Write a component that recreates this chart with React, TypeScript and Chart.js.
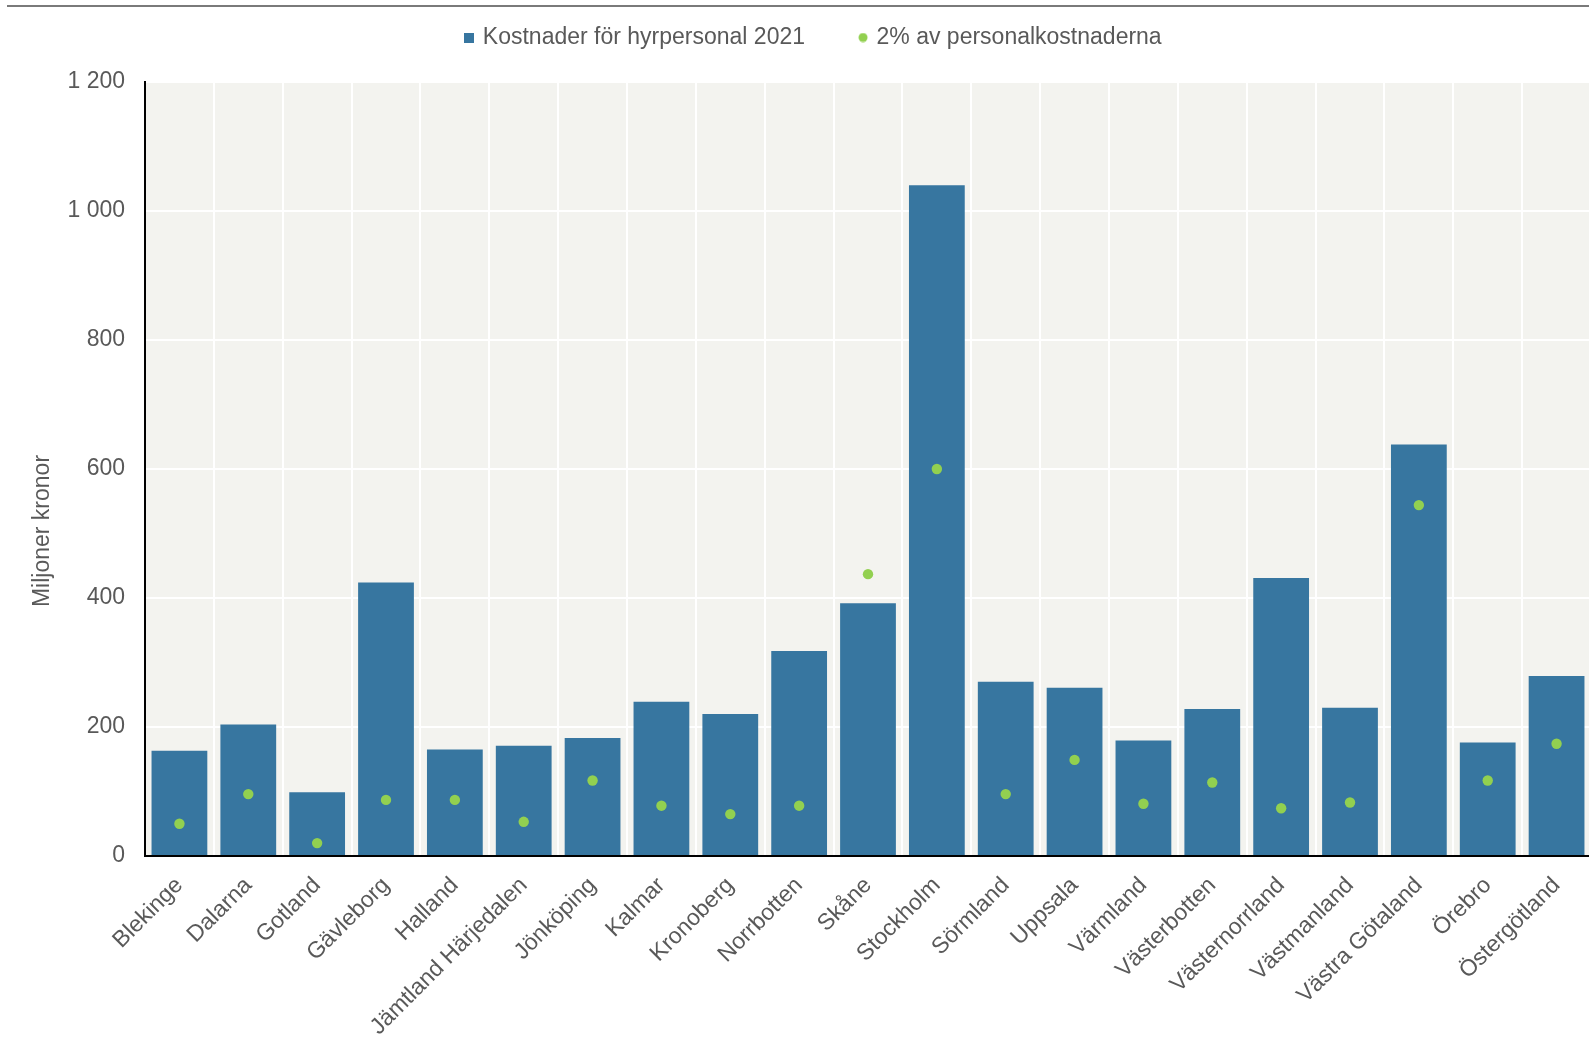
import React, { useEffect, useRef } from 'react';
import { Chart, registerables } from 'chart.js';

Chart.register(...registerables);

const categories = [
  'Blekinge', 'Dalarna', 'Gotland', 'Gävleborg', 'Halland', 'Jämtland Härjedalen',
  'Jönköping', 'Kalmar', 'Kronoberg', 'Norrbotten', 'Skåne', 'Stockholm', 'Sörmland',
  'Uppsala', 'Värmland', 'Västerbotten', 'Västernorrland', 'Västmanland',
  'Västra Götaland', 'Örebro', 'Östergötland',
];
const hyrpersonal = [163, 204, 99, 424, 165, 171, 183, 239, 220, 318, 392, 1040, 270, 261, 179, 228, 431, 230, 638, 176, 279];
const tvaProcent = [50, 96, 20, 87, 87, 53, 117, 78, 65, 78, 437, 600, 96, 149, 81, 114, 74, 83, 544, 117, 174];
const yTickValues = [0, 200, 400, 600, 800, 1000, 1200];
const seriesLabels = ['Kostnader för hyrpersonal 2021', '2% av personalkostnaderna'];
const yTitle = 'Miljoner kronor';

const W = 1600;
const H = 1044;
const FONT = '"Liberation Sans", Arial, sans-serif';
const FS = 23;
const TEXT = '#595959';
const BAR = 'rgb(55,118,160)';
const DOT = 'rgb(146,208,80)';

function fmt(v: number) {
  return String(v).replace(/\B(?=(\d{3})+(?!\d))/g, ' ');
}

export default function App() {
  const ref = useRef<HTMLCanvasElement | null>(null);

  useEffect(() => {
    const canvas = ref.current;
    if (!canvas) return;

    const sq = document.createElement('canvas');
    sq.width = 10; sq.height = 10;
    const sctx = sq.getContext('2d')!;
    sctx.fillStyle = BAR; sctx.fillRect(0, 0, 10, 10);

    const ci = document.createElement('canvas');
    ci.width = 10; ci.height = 10;
    const cctx = ci.getContext('2d')!;
    cctx.fillStyle = DOT; cctx.beginPath(); cctx.arc(5, 5, 4.5, 0, Math.PI * 2); cctx.fill();

    const decor = {
      id: 'decor',
      afterInit(chart: any) {
        const lg = chart.legend;
        const origFit = lg.fit.bind(lg);
        lg.fit = function () { origFit(); this.height = 82; };
        const origDraw = lg.draw.bind(lg);
        lg.draw = function () {
          const c = chart.ctx;
          c.save();
          c.translate(19, -30);
          origDraw();
          c.restore();
        };
      },
      beforeDraw(chart: any) {
        const { ctx, chartArea } = chart;
        ctx.save();
        ctx.fillStyle = '#f3f3ef';
        ctx.fillRect(chartArea.left, chartArea.top, chartArea.right - chartArea.left, chartArea.bottom - chartArea.top);
        ctx.strokeStyle = '#7a7a7a';
        ctx.lineWidth = 2;
        ctx.beginPath();
        ctx.moveTo(7, 6);
        ctx.lineTo(W, 6);
        ctx.stroke();
        ctx.restore();
      },
      afterDraw(chart: any) {
        const { ctx } = chart;
        ctx.save();
        ctx.translate(43, 531);
        ctx.rotate(-Math.PI / 2);
        ctx.fillStyle = TEXT;
        ctx.font = `${FS}px ${FONT}`;
        ctx.textAlign = 'center';
        ctx.textBaseline = 'middle';
        ctx.fillText(yTitle, 0, 0);
        ctx.restore();
      },
    };

    const chart = new Chart(canvas, {
      type: 'bar',
      data: {
        labels: categories,
        datasets: [
          {
            type: 'bar',
            label: seriesLabels[0],
            data: hyrpersonal,
            backgroundColor: BAR,
            borderWidth: 0,
            barPercentage: 0.81,
            categoryPercentage: 1,
            order: 2,
          },
          {
            type: 'line',
            label: seriesLabels[1],
            data: tvaProcent,
            showLine: false,
            pointRadius: 5.2,
            pointBackgroundColor: DOT,
            pointBorderWidth: 0,
            borderColor: DOT,
            backgroundColor: DOT,
            order: 1,
          } as any,
        ],
      },
      options: {
        responsive: false,
        animation: false,
        layout: { padding: { top: 0, left: 0, right: 9, bottom: 0 } },
        plugins: {
          tooltip: { enabled: false },
          legend: {
            position: 'top',
            labels: {
              usePointStyle: true,
              pointStyleWidth: 4,
              padding: 56,
              color: TEXT,
              font: { family: FONT, size: FS },
              generateLabels: () => [
                { text: seriesLabels[0], pointStyle: sq, fillStyle: BAR, strokeStyle: BAR, lineWidth: 0, datasetIndex: 0, fontColor: TEXT } as any,
                { text: seriesLabels[1], pointStyle: ci, fillStyle: DOT, strokeStyle: DOT, lineWidth: 0, datasetIndex: 1, fontColor: TEXT } as any,
              ],
            },
          },
        },
        scales: {
          x: {
            offset: true,
            grid: { color: '#ffffff', lineWidth: 2, drawTicks: false, offset: true },
            border: { display: true, color: '#000000', width: 2 },
            ticks: {
              color: TEXT,
              font: { family: FONT, size: FS },
              minRotation: 45,
              maxRotation: 45,
              autoSkip: false,
              padding: 16,
            },
            afterFit: (s: any) => { s.height = H - 856; },
          },
          y: {
            min: 0,
            max: 1200,
            grid: { color: '#ffffff', lineWidth: 2, drawTicks: false },
            border: { display: true, color: '#000000', width: 2 },
            afterBuildTicks: (s: any) => { s.ticks = yTickValues.map((v) => ({ value: v })); },
            ticks: {
              color: TEXT,
              font: { family: FONT, size: FS },
              padding: 20,
              callback: (v: any) => fmt(Number(v)),
            },
            afterFit: (s: any) => { s.width = 145; },
          },
        },
      },
      plugins: [decor],
    });

    return () => chart.destroy();
  }, []);

  return (
    <div style={{ position: 'fixed', left: 0, top: 0, width: 1589, height: H, overflow: 'hidden', background: '#fff' }}>
      <canvas ref={ref} width={W} height={H} style={{ display: 'block', width: W, height: H }} />
    </div>
  );
}
